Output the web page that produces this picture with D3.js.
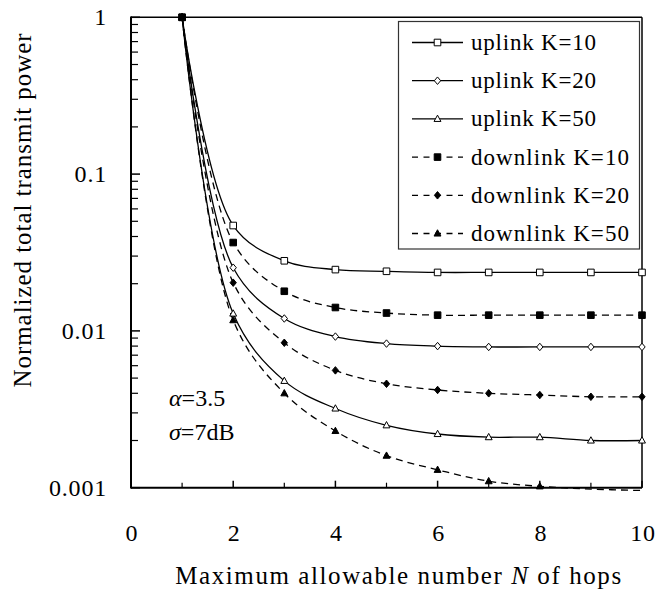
<!DOCTYPE html>
<html><head><meta charset="utf-8">
<script src="https://cdn.jsdelivr.net/npm/d3@7"></script>
<style>html,body{margin:0;padding:0;background:#fff;}</style></head>
<body>
<svg id="chart" width="657" height="591"></svg>
<script>
const hops = [1,2,3,4,5,6,7,8,9,10];
const uplinkK10   = [1, 0.047, 0.028, 0.0246, 0.0240, 0.0236, 0.0236, 0.0236, 0.0236, 0.0236];
const uplinkK20   = [1, 0.0253, 0.0120, 0.0092, 0.0083, 0.0080, 0.0079, 0.0079, 0.0079, 0.0079];
const uplinkK50   = [1, 0.0129, 0.0048, 0.0032, 0.0025, 0.0022, 0.0021, 0.0021, 0.0020, 0.0020];
const downlinkK10 = [1, 0.0366, 0.0179, 0.0141, 0.0130, 0.0126, 0.0126, 0.0126, 0.0126, 0.0126];
const downlinkK20 = [1, 0.0203, 0.0084, 0.0056, 0.0046, 0.0042, 0.0040, 0.0039, 0.0038, 0.0038];
const downlinkK50 = [1, 0.0117, 0.0040, 0.0023, 0.0016, 0.0013, 0.0011, 0.00102, 0.00098, 0.00096];
const seriesNames = ["uplink K=10","uplink K=20","uplink K=50","downlink K=10","downlink K=20","downlink K=50"];
const xTicks = [0,2,4,6,8,10];
const yTicks = [1,0.1,0.01,0.001];
const yTickLabels = ["1","0.1","0.01","0.001"];

const series = [
  {name:seriesNames[0], values:uplinkK10, shape:"square", filled:false, dashed:false},
  {name:seriesNames[1], values:uplinkK20, shape:"diamond", filled:false, dashed:false},
  {name:seriesNames[2], values:uplinkK50, shape:"triangle", filled:false, dashed:false},
  {name:seriesNames[3], values:downlinkK10, shape:"square", filled:true, dashed:true},
  {name:seriesNames[4], values:downlinkK20, shape:"diamond", filled:true, dashed:true},
  {name:seriesNames[5], values:downlinkK50, shape:"triangle", filled:true, dashed:true}
];

const svg = d3.select("#chart");
const L=131, R=642, T=17.3, B=487.7;
const x = d3.scaleLinear().domain([0,10]).range([L,R]);
const y = d3.scaleLog().domain([0.001,1]).range([B,T]);

function txt(parent){
  return parent.append("text").attr("font-family","Liberation Serif")
    .style("font-family", '"Liberation Serif"').attr("fill","#000");
}
function fitText(sel, target){
  sel.each(function(){
    const n = this.getNumberOfChars();
    const w = this.getComputedTextLength();
    if(n>1) d3.select(this).attr("letter-spacing", ((target - w)/(n-1)).toFixed(2));
  });
}

// ticks
const yMinor = [];
for (let e=-3;e<0;e++) for (let m=2;m<=9;m++) yMinor.push(m*Math.pow(10,e));
svg.append("g").selectAll("line").data(yMinor).join("line")
  .attr("x1",L).attr("x2",L+7).attr("y1",d=>y(d)).attr("y2",d=>y(d))
  .attr("stroke","#000").attr("stroke-width",1.2);
svg.append("g").selectAll("line").data(yTicks).join("line")
  .attr("x1",L).attr("x2",L+9).attr("y1",d=>y(d)).attr("y2",d=>y(d))
  .attr("stroke","#000").attr("stroke-width",1.5);
const xMinor = [1,3,5,7,9];
svg.append("g").selectAll("line").data(xMinor).join("line")
  .attr("x1",d=>x(d)).attr("x2",d=>x(d)).attr("y1",B).attr("y2",B-5)
  .attr("stroke","#000").attr("stroke-width",1.2);
svg.append("g").selectAll("line").data(xTicks).join("line")
  .attr("x1",d=>x(d)).attr("x2",d=>x(d)).attr("y1",B).attr("y2",B-7)
  .attr("stroke","#000").attr("stroke-width",1.5);

// frame
svg.append("line").attr("x1",L).attr("x2",R).attr("y1",T).attr("y2",T).attr("stroke","#000").attr("stroke-width",1.5);
svg.append("line").attr("x1",R).attr("x2",R).attr("y1",T).attr("y2",B).attr("stroke","#000").attr("stroke-width",1.5);
svg.append("line").attr("x1",L).attr("x2",L).attr("y1",T-0.75).attr("y2",B+0.75).attr("stroke","#000").attr("stroke-width",2);
svg.append("line").attr("x1",L).attr("x2",R).attr("y1",B).attr("y2",B).attr("stroke","#000").attr("stroke-width",2);

// tick labels
yTicks.forEach((d,i)=>{
  txt(svg).attr("x",107).attr("y",y(d)+8).attr("text-anchor","end")
    .attr("font-size",24).attr("letter-spacing",0.8).text(yTickLabels[i]);
});
xTicks.forEach(d=>{
  txt(svg).attr("x",x(d)+1).attr("y",541).attr("text-anchor","middle")
    .attr("font-size",24).attr("letter-spacing",0.8).text(d);
});

// axis titles
const xt = txt(svg).attr("x",399).attr("y",584).attr("text-anchor","middle").attr("font-size",25);
xt.append("tspan").text("Maximum allowable number ");
xt.append("tspan").attr("font-style","italic").text("N");
xt.append("tspan").text(" of hops");
fitText(xt, 446);
const yt = txt(svg).attr("transform","translate(31,210) rotate(-90)").attr("text-anchor","middle").attr("font-size",25)
  .text("Normalized total transmit power");
fitText(yt, 354);

// marker drawing
function markerPath(shape, s){
  if(shape==="square") return `M${-s},${-s}H${s}V${s}H${-s}Z`;
  if(shape==="diamond") return `M0,${-s*1.25}L${s*1.05},0L0,${s*1.25}L${-s*1.05},0Z`;
  return `M0,${-s*1.25}L${s*1.15},${s*0.85}L${-s*1.15},${s*0.85}Z`;
}
const line = d3.line().x((d,i)=>x(hops[i])).y(d=>y(d)).curve(d3.curveCatmullRom.alpha(0.5));

const drawOrder = [0,1,2,4,5,3];
drawOrder.forEach(k=>{
  const s = series[k];
  svg.append("path").datum(s.values).attr("d",line)
    .attr("fill","none").attr("stroke","#000").attr("stroke-width",1.3)
    .attr("stroke-dasharray", s.dashed ? "7,5" : null);
});
drawOrder.forEach(k=>{
  const s = series[k];
  const pts = s.values.map((v,i)=>({x:hops[i],v})).filter(p=>p.v>=0.001);
  svg.append("g").selectAll("path").data(pts).join("path")
    .attr("transform",p=>`translate(${x(p.x)},${y(p.v)})`)
    .attr("d", markerPath(s.shape, s.shape==="square"?3.3:3))
    .attr("fill", s.filled?"#000":"#fff").attr("stroke","#000").attr("stroke-width",1);
});

// legend
const lg = svg.append("g");
lg.append("rect").attr("x",398.5).attr("y",21.5).attr("width",241).attr("height",227.5)
  .attr("fill","#fff").attr("stroke","#333").attr("stroke-width",1.2);
series.forEach((s,i)=>{
  const cy = 42.5 + i*38.2;
  lg.append("line").attr("x1",412).attr("x2",463).attr("y1",cy).attr("y2",cy)
    .attr("stroke","#000").attr("stroke-width",1.3).attr("stroke-dasharray", s.dashed?"6,5.5":null);
  lg.append("path").attr("transform",`translate(437.5,${cy})`).attr("d",markerPath(s.shape, s.shape==="square"?3.3:3))
    .attr("fill", s.filled?"#000":"#fff").attr("stroke","#000").attr("stroke-width",1);
  const t = txt(lg).attr("x",471).attr("y",cy+7.5).attr("font-size",23).text(s.name);
  fitText(t, s.dashed?158:125);
});

// annotation
const a1 = txt(svg).attr("x",169).attr("y",406).attr("font-size",24);
a1.append("tspan").attr("font-style","italic").text("α");
a1.append("tspan").text("=3.5");
const a2 = txt(svg).attr("x",169).attr("y",440).attr("font-size",24);
a2.append("tspan").attr("font-style","italic").text("σ");
a2.append("tspan").text("=7dB");
</script>
</body></html>
